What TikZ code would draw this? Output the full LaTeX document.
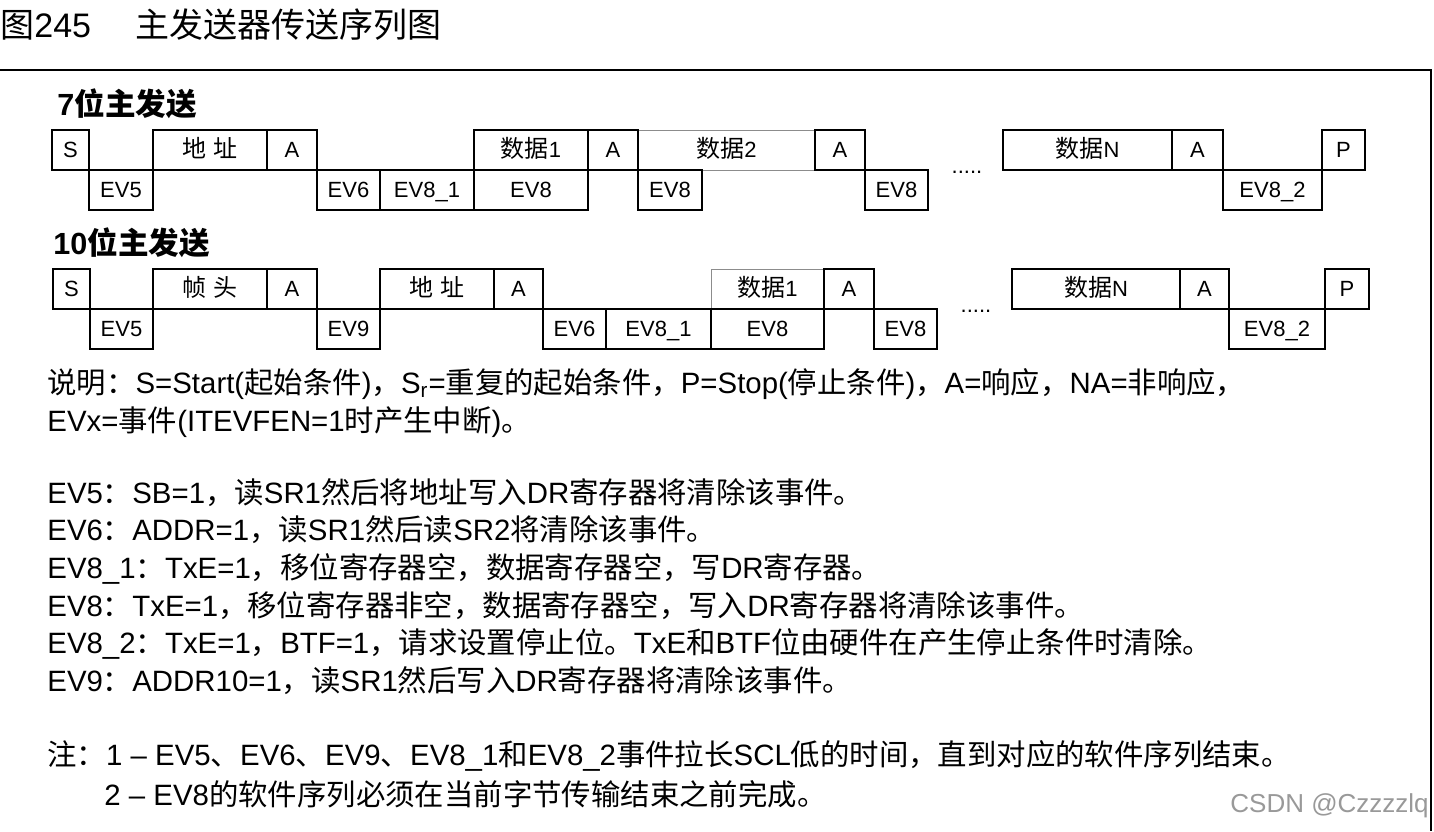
\documentclass[tikz,border=0pt]{standalone}
\usepackage{fontspec}
\setmainfont{Liberation Sans}
\newfontfamily\zhfont{Noto Sans CJK SC}
\newcommand\zh[1]{{\zhfont #1}}
\newcommand\zb[1]{{\zhfont\fontsize{12}{12}\selectfont #1}}

\begin{document}
\begin{tikzpicture}[x=0.5pt,y=-0.5pt,
 slot/.style={draw,line width=1pt,inner sep=0pt,minimum height=20pt,text height=7.9pt,text depth=0pt,font=\fontsize{11}{11}\selectfont},
 faint/.style={slot,draw=black!45,line width=0.5pt},
 gap/.style={inner sep=0pt,font=\fontsize{11}{11}\selectfont},
 ttl/.style={anchor=base west,inner sep=0pt,font=\fontsize{17}{17}\selectfont},
 rowlab/.style={anchor=base west,inner sep=0pt,font=\fontsize{15.3}{15.3}\selectfont\bfseries},
 txt/.style={anchor=base west,inner sep=0pt,font=\fontsize{14.7}{17}\selectfont},
 wmark/.style={anchor=base west,inner sep=0pt,text=black!40,font=\fontsize{13}{13}\selectfont}
]
\useasboundingbox (0,0) rectangle (1434,831);
\node[ttl] (fignum) at (0,37) {\zh{图}245};
\node[ttl] (figttl) at (135,37) {\zh{主发送器传送序列图}};
\draw[line width=1pt] (0,70) -- (1431,70) -- (1431,831);

\node[rowlab] (lab7) at (57,115) {7\zh{位主发送}};
\node[faint,minimum width=88.5pt] (d2) at (726.5,150) {\zb{数据}2};
\node[slot,minimum width=18.5pt] (s1) at (70.5,150) {S};
\node[slot,minimum width=57pt] (addr1) at (210,150) {\zb{地\hspace{4pt}址}};
\node[slot,minimum width=25pt] (a1) at (292,150) {A};
\node[slot,minimum width=57pt] (d1) at (531,150) {\zb{数据}1};
\node[slot,minimum width=25pt] (a2) at (613,150) {A};
\node[slot,minimum width=25pt] (a3) at (840,150) {A};
\node[slot,minimum width=84.5pt] (dn1) at (1087.5,150) {\zb{数据}N};
\node[slot,minimum width=25.5pt] (a4) at (1197.5,150) {A};
\node[slot,minimum width=21.5pt] (p1) at (1343.5,150) {P};
\node[slot,minimum width=32pt] (ev5a) at (121,190) {EV5};
\node[slot,minimum width=31.5pt] (ev6a) at (348.5,190) {EV6};
\node[slot,minimum width=47pt] (ev81a) at (427,190) {EV8\_1};
\node[slot,minimum width=57pt] (ev8a) at (531,190) {EV8};
\node[slot,minimum width=32pt] (ev8b) at (670,190) {EV8};
\node[slot,minimum width=31.5pt] (ev8c) at (896.5,190) {EV8};
\node[slot,minimum width=49.5pt] (ev82a) at (1272.5,190) {EV8\_2};
\node[gap] (gap1) at (967,172) {.....};

\node[rowlab] (lab10) at (53,254) {10\zh{位主发送}};
\node[faint,minimum width=56.5pt] (d3) at (767.5,289) {\zb{数据}1};
\node[slot,minimum width=18.5pt] (s2) at (71.5,289) {S};
\node[slot,minimum width=57pt] (hdr) at (210,289) {\zb{帧\hspace{4pt}头}};
\node[slot,minimum width=25pt] (a5) at (292,289) {A};
\node[slot,minimum width=57pt] (addr2) at (437,289) {\zb{地\hspace{4pt}址}};
\node[slot,minimum width=24.5pt] (a6) at (518.5,289) {A};
\node[slot,minimum width=25pt] (a7) at (849,289) {A};
\node[slot,minimum width=84pt] (dn2) at (1096,289) {\zb{数据}N};
\node[slot,minimum width=24.5pt] (a8) at (1204.5,289) {A};
\node[slot,minimum width=22pt] (p2) at (1347,289) {P};
\node[slot,minimum width=31.5pt] (ev5b) at (121.5,329) {EV5};
\node[slot,minimum width=31.5pt] (ev9) at (348.5,329) {EV9};
\node[slot,minimum width=31.5pt] (ev6b) at (574.5,329) {EV6};
\node[slot,minimum width=52.5pt] (ev81b) at (658.5,329) {EV8\_1};
\node[slot,minimum width=56.5pt] (ev8d) at (767.5,329) {EV8};
\node[slot,minimum width=31.5pt] (ev8e) at (905.5,329) {EV8};
\node[slot,minimum width=48pt] (ev82b) at (1277,329) {EV8\_2};
\node[gap] (gap2) at (976,311) {.....};

\node[txt] (desc1) at (47,393) {\zh{说明：}S=Start(\zh{起始条件})\zh{，}S\textsubscript{r}=\zh{重复的起始条件，}P=Stop(\zh{停止条件})\zh{，}A=\zh{响应，}NA=\zh{非响应，}};
\node[txt] (desc2) at (47,431) {EVx=\zh{事件}(ITEVFEN=1\zh{时产生中断})\zh{。}};
\node[txt] (ev5t) at (47,503) {EV5\zh{：}SB=1\zh{，读}SR1\zh{然后将地址写入}DR\zh{寄存器将清除该事件。}};
\node[txt] (ev6t) at (47,540) {EV6\zh{：}ADDR=1\zh{，读}SR1\zh{然后读}SR2\zh{将清除该事件。}};
\node[txt] (ev81t) at (47,578) {EV8\_1\zh{：}TxE=1\zh{，移位寄存器空，数据寄存器空，写}DR\zh{寄存器。}};
\node[txt] (ev8t) at (47,616) {EV8\zh{：}TxE=1\zh{，移位寄存器非空，数据寄存器空，写入}DR\zh{寄存器将清除该事件。}};
\node[txt] (ev82t) at (47,653) {EV8\_2\zh{：}TxE=1\zh{，}BTF=1\zh{，请求设置停止位。}TxE\zh{和}BTF\zh{位由硬件在产生停止条件时清除。}};
\node[txt] (ev9t) at (47,691) {EV9\zh{：}ADDR10=1\zh{，读}SR1\zh{然后写入}DR\zh{寄存器将清除该事件。}};
\node[txt] (note1) at (47,765) {\zh{注：}1 -- EV5\zh{、}EV6\zh{、}EV9\zh{、}EV8\_1\zh{和}EV8\_2\zh{事件拉长}SCL\zh{低的时间，直到对应的软件序列结束。}};
\node[txt] (note2) at (104,805) {2 -- EV8\zh{的软件序列必须在当前字节传输结束之前完成。}};
\node[wmark] (csdn) at (1230,812) {CSDN @Czzzzlq};
\end{tikzpicture}
\end{document}
